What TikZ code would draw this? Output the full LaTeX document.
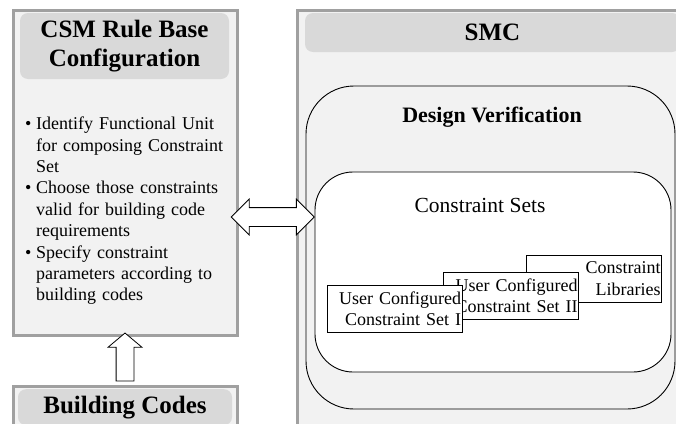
\documentclass[tikz,border=0pt]{standalone}
\usepackage{fontspec}
\setmainfont{Liberation Serif}
\usepackage{tikz}
\usetikzlibrary{positioning, arrows.meta, shapes.arrows, calc}

\definecolor{panelfill}{HTML}{F2F2F2}
\definecolor{panelline}{HTML}{A0A0A0}
\definecolor{headfill}{HTML}{D9D9D9}

\tikzset{
  panel/.style={draw=panelline, line width=3pt, fill=panelfill, inner sep=0pt},
  headbox/.style={fill=headfill, rounded corners=8pt, inner sep=0pt, align=center,
    font=\fontsize{25}{29}\selectfont\bfseries},
  roundbox/.style={draw, line width=0.9pt, inner sep=0pt},
  setbox/.style={draw, fill=white, line width=0.6pt, minimum width=135pt, minimum height=47pt,
    inner sep=0pt, text width=133pt, align=right, font=\fontsize{18}{21.5}\selectfont},
  blockarrow/.style={draw, fill=white, line width=0.8pt, inner xsep=0pt},
}
\newenvironment{csmitems}{\begin{list}{\textbullet}{%
    \setlength\leftmargin{11pt}\setlength\labelwidth{11pt}\setlength\labelsep{0pt}%
    \setlength\itemsep{0pt}\setlength\topsep{0pt}\setlength\parsep{0pt}%
    \setlength\partopsep{0pt}\renewcommand\makelabel[1]{##1\hfil}}}{\end{list}}

\begin{document}
\begin{tikzpicture}[x=1pt, y=-1pt]
    \useasboundingbox (0,0) rectangle (676,423);
    \clip (0,0) rectangle (676,423);

    % SMC panel
    \node[panel, minimum width=393pt, minimum height=430pt] (smc) at (493.5,225) {};
    \node[headbox, minimum width=375pt, minimum height=39pt] (smchead) at (492.5,32.5) {SMC};

    % Design verification
    \node[roundbox, fill=panelfill, rounded corners=48pt, minimum width=369pt, minimum height=323pt]
        (verify) at (490.5,247.5) {};
    \node[font=\fontsize{22}{26}\selectfont\bfseries] (verifytitle) at (492,117) {Design Verification};

    % Constraint sets
    \node[roundbox, fill=white, rounded corners=38pt, minimum width=356pt, minimum height=200pt]
        (sets) at (493,272) {};
    \node[font=\fontsize{21.5}{25}\selectfont] (setstitle) at (480,205) {Constraint Sets};

    \node[setbox] (lib) at (594,278.5) {Constraint\\Libraries};
    \node[setbox] (cset2) at (511,295.5) {User Configured\\Constraint Set II};
    \node[setbox] (cset1) at (394.5,308.5) {User Configured\\Constraint Set I};

    % CSM panel
    \node[panel, minimum width=224pt, minimum height=325pt] (csm) at (125,172.5) {};
    \node[headbox, minimum width=209pt, minimum height=66pt] (csmhead) at (124.5,46)
        {CSM Rule Base\\Configuration};
    \node[anchor=north west, text width=215pt, inner sep=0pt,
          font=\fontsize{18}{21.4}\selectfont] (csmlist) at (25,108) {%
        \begin{csmitems}\raggedright
        \item Identify Functional Unit\\for composing Constraint\\Set
        \item Choose those constraints\\valid for building code\\requirements
        \item Specify constraint\\parameters according to\\building codes
        \end{csmitems}};

    % Building codes
    \node[panel, minimum width=224pt, minimum height=60pt, anchor=north] (codes) at (125,385) {};
    \node[headbox, minimum width=214pt, minimum height=36pt, anchor=north] (codeshead) at (125,389)
        {Building Codes};

    % block arrows
    \node[blockarrow, single arrow, rotate=90, inner ysep=8.5pt, minimum height=48pt,
          single arrow head extend=8pt, single arrow tip angle=100]
        (up) at ($(csm.south)!0.5!(codes.north)$) {};

    \coordinate (dl) at (231,217);
    \coordinate (dr) at (sets.west |- dl);
    \node[blockarrow, double arrow, inner ysep=9pt, minimum height=83pt,
          double arrow head extend=8.5pt, double arrow tip angle=90]
        (link) at ($(dl)!0.5!(dr)$) {};
\end{tikzpicture}
\end{document}
